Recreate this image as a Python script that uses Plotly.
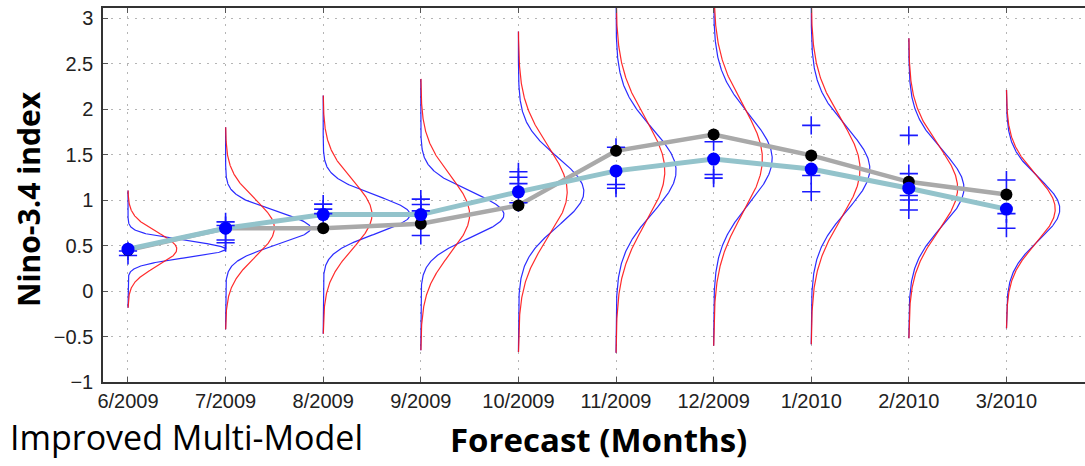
import numpy as np
import plotly.graph_objects as go

# ---------------- data ----------------
months = ["6/2009", "7/2009", "8/2009", "9/2009", "10/2009", "11/2009",
          "12/2009", "1/2010", "2/2010", "3/2010"]
observed = [0.45, 0.69, 0.69, 0.74, 0.94, 1.54, 1.72, 1.49, 1.20, 1.06]
forecast_mean = [0.46, 0.69, 0.84, 0.84, 1.09, 1.32, 1.45, 1.34, 1.13, 0.90]
sigma_red = [0.184, 0.317, 0.374, 0.426, 0.503, 0.571, 0.586, 0.55, 0.471, 0.374]
sigma_blue = [0.092, 0.182, 0.21, 0.25, 0.375, 0.464, 0.488, 0.458, 0.417, 0.342]
members = [
    [0.44, 0.39],
    [0.76, 0.72, 0.56, 0.53],
    [0.955, 0.90, 0.85],
    [1.01, 0.95, 0.88, 0.61],
    [1.31, 1.25, 1.18, 0.97],
    [1.58, 1.17, 1.13],
    [1.64, 1.28, 1.24],
    [1.82, 1.27, 1.09],
    [1.71, 1.29, 1.05, 1.00, 0.89],
    [1.22, 0.85, 0.69],
]
ytick_vals = [-1, -0.5, 0, 0.5, 1, 1.5, 2, 2.5, 3]
ytick_text = ["\u22121", "\u22120.5", "0", "0.5", "1", "1.5", "2", "2.5", "3"]

# ---------------- figure ----------------
xpos = list(range(len(months)))
fig = go.Figure()

PEAK = 0.5  # width (in months) of the red pdf peak
for i, (mu, sr, sb) in enumerate(zip(forecast_mean, sigma_red, sigma_blue)):
    y = np.linspace(mu - 3.5 * sr, mu + 3.5 * sr, 400)
    red = i + PEAK * np.exp(-(y - mu) ** 2 / (2 * sr ** 2))
    blue = i + PEAK * (sr / sb) * np.exp(-(y - mu) ** 2 / (2 * sb ** 2))
    fig.add_trace(go.Scatter(x=blue, y=y, mode="lines",
                             line=dict(color="rgba(20,20,255,0.9)", width=1.2),
                             hoverinfo="skip", showlegend=False))
    fig.add_trace(go.Scatter(x=red, y=y, mode="lines",
                             line=dict(color="rgba(255,20,20,0.9)", width=1.2),
                             hoverinfo="skip", showlegend=False))

fig.add_trace(go.Scatter(x=xpos, y=observed, mode="lines",
                         line=dict(color="#a9a9a9", width=4.5), showlegend=False))
fig.add_trace(go.Scatter(x=xpos, y=forecast_mean, mode="lines",
                         line=dict(color="#93c3cb", width=5), showlegend=False))

mx, my = [], []
for i, vals in enumerate(members):
    for v in vals:
        mx.append(i)
        my.append(v)
fig.add_trace(go.Scatter(x=mx, y=my, mode="markers",
                         marker=dict(symbol="cross-thin", size=13,
                                     line=dict(color="#1a1aff", width=1.6)),
                         showlegend=False))

fig.add_trace(go.Scatter(x=xpos, y=observed, mode="markers",
                         marker=dict(color="black", size=12), showlegend=False))
fig.add_trace(go.Scatter(x=xpos, y=forecast_mean, mode="markers",
                         marker=dict(color="#0000ff", size=13), showlegend=False))

W, H = 1085, 466
L, R, T, B = 103, 0, 8, 84
pw, ph = W - L - R, H - T - B


def px(x):
    return (x - L) / pw


def py(y):
    return (H - B - y) / ph


fig.update_layout(
    width=W, height=H,
    margin=dict(l=L, r=R, t=T, b=B),
    paper_bgcolor="white", plot_bgcolor="white",
    font=dict(family="Liberation Sans, Arial, sans-serif", color="#222"),
    xaxis=dict(range=[-0.256, 9.805], tickmode="array", tickvals=xpos,
               ticktext=months, tickfont=dict(size=20),
               showgrid=True, gridcolor="#b5b5b5", griddash="2px,6px", gridwidth=1,
               zeroline=False, showline=True, linecolor="#333", linewidth=1.5,
               mirror="ticks", ticks="inside", ticklen=5, tickcolor="#555"),
    yaxis=dict(range=[-1, 3.11], tickmode="array", tickvals=ytick_vals,
               ticktext=ytick_text, tickfont=dict(size=20),
               showgrid=True, gridcolor="#b5b5b5", griddash="2px,6px", gridwidth=1,
               zeroline=False, showline=True, linecolor="#333", linewidth=1.5,
               ticks="inside", ticklen=5, tickcolor="#555", ticklabelstandoff=4),
    annotations=[
        dict(text="<b>Nino-3.4 index</b>", xref="paper", yref="paper",
             x=px(28), y=py(199), xanchor="center", yanchor="middle",
             textangle=-90, showarrow=False,
             font=dict(family="Open Sans", size=30, color="black")),
        dict(text="Improved Multi-Model", xref="paper", yref="paper",
             x=px(8), y=py(437), xanchor="left", yanchor="middle",
             showarrow=False,
             font=dict(family="Open Sans", size=34, color="black")),
        dict(text="<b>Forecast (Months)</b>", xref="paper", yref="paper",
             x=px(598), y=py(439), xanchor="center", yanchor="middle",
             showarrow=False,
             font=dict(family="Open Sans", size=33, color="black")),
    ],
)

fig.write_html(
    "out.html",
    config={"displayModeBar": False},
    post_script="document.body.style.margin='0';document.body.style.overflow='hidden';",
)
